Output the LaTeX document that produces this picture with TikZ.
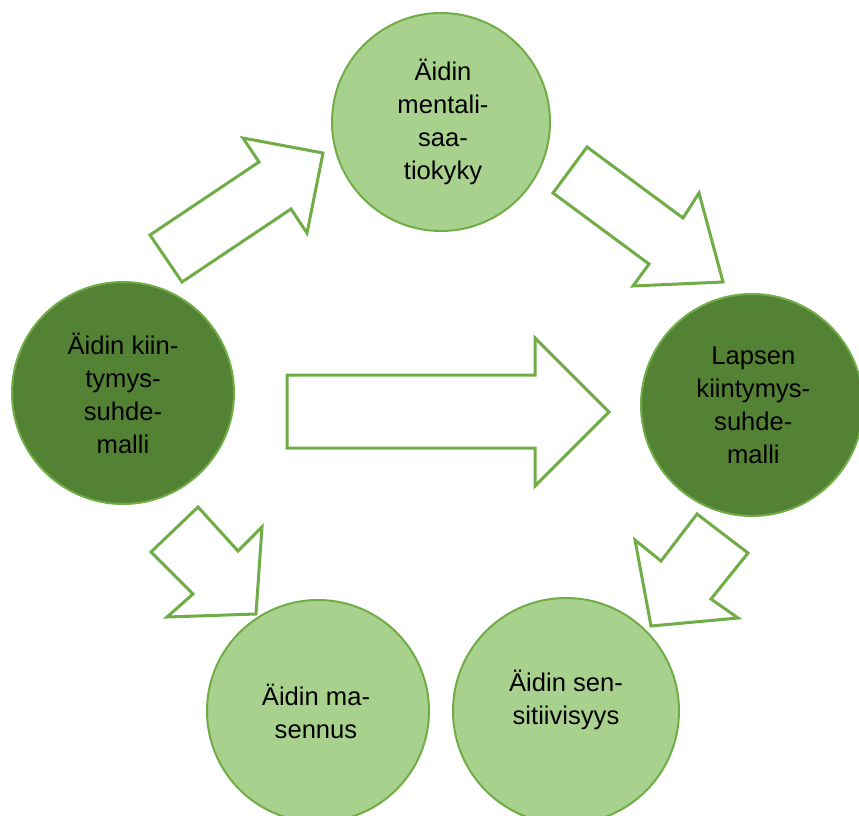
\documentclass[tikz,border=0pt]{standalone}
\usepackage{fontspec}
\setmainfont{Liberation Sans}
\definecolor{leafline}{HTML}{70AD47}
\definecolor{leaflight}{HTML}{A9D18E}
\definecolor{leafdark}{HTML}{548235}
\begin{document}
\begin{tikzpicture}[x=0.75pt, y=-0.75pt,
  disc/.style={circle, draw=leafline, line width=1.5pt, inner sep=0pt},
  lightdisc/.style={disc, fill=leaflight},
  darkdisc/.style={disc, fill=leafdark},
  caption/.style={align=center, inner sep=0pt, text=black,
    font=\fontsize{19.2pt}{24.75pt}\selectfont},
  blockarrow/.style={draw=leafline, fill=white, line width=2.25pt, line join=miter}]
\clip (0,0) rectangle (859,816);
\fill[white] (0,0) rectangle (859,816);

% circles
\node[lightdisc, minimum size=163.5pt] (mental) at (441,122) {};
\node[darkdisc,  minimum size=166.5pt] (mother) at (123,393) {};
\node[darkdisc,  minimum size=166.5pt] (child)  at (752,405) {};
\node[lightdisc, minimum size=166.5pt] (depr)   at (318,711) {};
\node[lightdisc, minimum size=169.5pt] (sens)   at (566,711) {};

% captions
\node[caption] (tmental) at ([xshift=1.5pt]mental.center) {Äidin\\mentali-\\saa-\\tiokyky};
\node[caption] (tmother) at (mother.center) {Äidin kiin-\\tymys-\\suhde-\\malli};
\node[caption] (tchild)  at ([xshift=1pt]child.center) {Lapsen\\kiintymys-\\suhde-\\malli};
\node[caption] (tdepr)   at ([xshift=-1.5pt]depr.center) {Äidin ma-\\sennus};
\node[caption] (tsens)   at ([yshift=8pt]sens.center) {Äidin sen-\\sitiivisyys};

% block arrows
\draw[blockarrow] (150,235) -- (259,162) -- (243,138) -- (323,153)
  -- (307,233) -- (291,209) -- (182,282) -- cycle;
\draw[blockarrow] (587,147) -- (683,218) -- (699,193) -- (723,282)
  -- (633,286) -- (649,264) -- (553,193) -- cycle;
\draw[blockarrow] (287,375) -- (535,375) -- (535,338) -- (609,412)
  -- (535,486) -- (535,448) -- (287,448) -- cycle;
\draw[blockarrow] (198,507) -- (238,551) -- (262,527) -- (256,614)
  -- (167,617) -- (193,594) -- (151,552) -- cycle;
\draw[blockarrow] (697,514) -- (748,553) -- (711,599) -- (738,618)
  -- (651,626) -- (635,540) -- (661,561) -- cycle;
\end{tikzpicture}
\end{document}
